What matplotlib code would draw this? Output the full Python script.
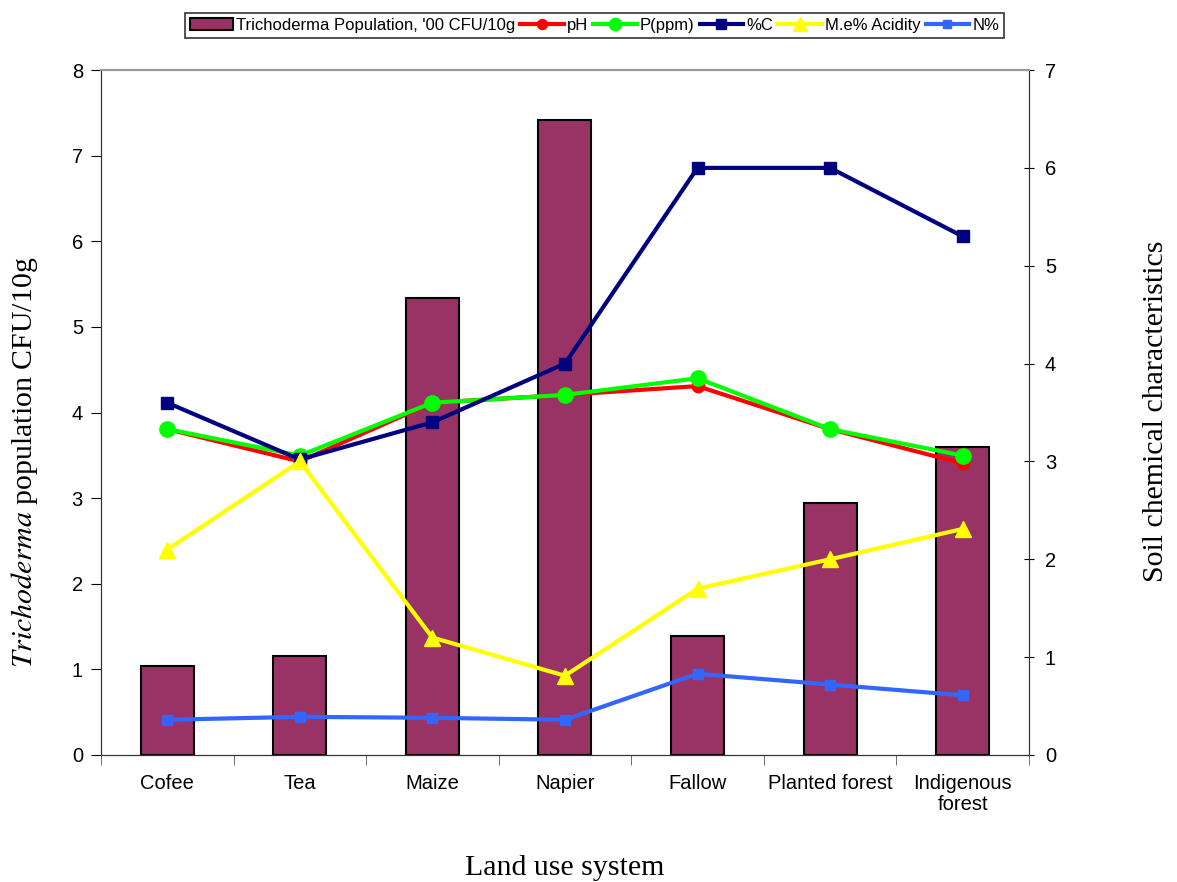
import matplotlib
matplotlib.use("Agg")

import matplotlib.pyplot as plt
import numpy as np

categories = ["Cofee", "Tea", "Maize", "Napier", "Fallow", "Planted forest", "Indigenous\nforest"]
trichoderma = [1.04, 1.16, 5.34, 7.42, 1.39, 2.94, 3.60]
ph = [3.33, 3.00, 3.60, 3.68, 3.77, 3.33, 2.98]
p_ppm = [3.33, 3.06, 3.60, 3.68, 3.85, 3.33, 3.06]
carbon = [3.60, 3.02, 3.40, 4.00, 6.00, 6.00, 5.30]
acidity = [2.10, 3.00, 1.20, 0.81, 1.70, 2.00, 2.31]
nitrogen = [0.36, 0.39, 0.38, 0.36, 0.83, 0.72, 0.61]

sans = ["Liberation Sans", "DejaVu Sans"]
serif = ["Liberation Serif", "DejaVu Serif"]

fig = plt.figure(figsize=(11.77, 8.82), dpi=100)
ax = fig.add_axes([0.0858, 0.144, 0.7884, 0.7766])
ax2 = ax.twinx()

x = np.arange(len(categories))
bars = ax.bar(x, trichoderma, width=0.4, color="#993366", edgecolor="black",
              linewidth=1.5, label="Trichoderma Population, '00 CFU/10g", zorder=2)

lw = 3
l1, = ax2.plot(x, ph, color="#ff0000", lw=lw, marker="o", ms=9, label="pH")
l2, = ax2.plot(x, p_ppm, color="#00ff00", lw=lw, marker="o", ms=11, label="P(ppm)")
l3, = ax2.plot(x, carbon, color="#000080", lw=lw, marker="s", ms=9, label="%C")
l4, = ax2.plot(x, acidity, color="#ffff00", lw=lw, marker="^", ms=12, label="M.e% Acidity")
l5, = ax2.plot(x, nitrogen, color="#3366ff", lw=lw, marker="s", ms=7, label="N%")

ax.set_xlim(-0.5, len(categories) - 0.5)
ax.set_ylim(0, 8)
ax2.set_ylim(0, 7)
ax.set_yticks(range(0, 9))
ax2.set_yticks(range(0, 8))

ax.set_xticks(x)
ax.set_xticklabels(categories, fontsize=14.5, family=sans, linespacing=1.1)
ax.set_xticks(np.arange(-0.5, len(categories)), minor=True)
ax.tick_params(axis="x", which="major", length=0, pad=14)
ax.tick_params(axis="x", which="minor", length=7, direction="out", color="#555555")
ax.tick_params(axis="y", length=7, direction="out", labelsize=14.5, pad=6)
ax2.tick_params(axis="y", length=7, direction="inout", labelsize=14.5, pad=8)
for lab in ax.get_yticklabels() + ax2.get_yticklabels():
    lab.set_family(sans)

for a in (ax, ax2):
    a.spines["top"].set_color("#999999")
    a.spines["top"].set_linewidth(1.5)
    a.spines["left"].set_color("#333333")
    a.spines["right"].set_color("#333333")
    a.spines["bottom"].set_color("#333333")

ax.set_ylabel("$\\it{Trichoderma}$ population CFU/10g", fontsize=21.5, family=serif)
ax.yaxis.label.set_math_fontfamily("stix")
ax.yaxis.set_label_coords(-0.0657, 0.428)
ax2.set_ylabel("Soil chemical characteristics", fontsize=21.5, family=serif)
ax2.yaxis.set_label_coords(1.123, 0.502)
ax.set_xlabel("Land use system", fontsize=21.5, family=serif)
ax.xaxis.set_label_coords(0.5, -0.146)

handles = [bars, l1, l2, l3, l4, l5]
leg = fig.legend(handles, [h.get_label() for h in handles], loc="upper center",
                 bbox_to_anchor=(0.505, 0.995), ncol=6, frameon=True, fancybox=False,
                 edgecolor="black", prop={"family": sans, "size": 12},
                 handlelength=2.6, handletextpad=0.2, columnspacing=0.3,
                 borderpad=0.3, markerscale=0.8)
leg.get_frame().set_linewidth(1.2)

fig.savefig("out.png", dpi=100)
